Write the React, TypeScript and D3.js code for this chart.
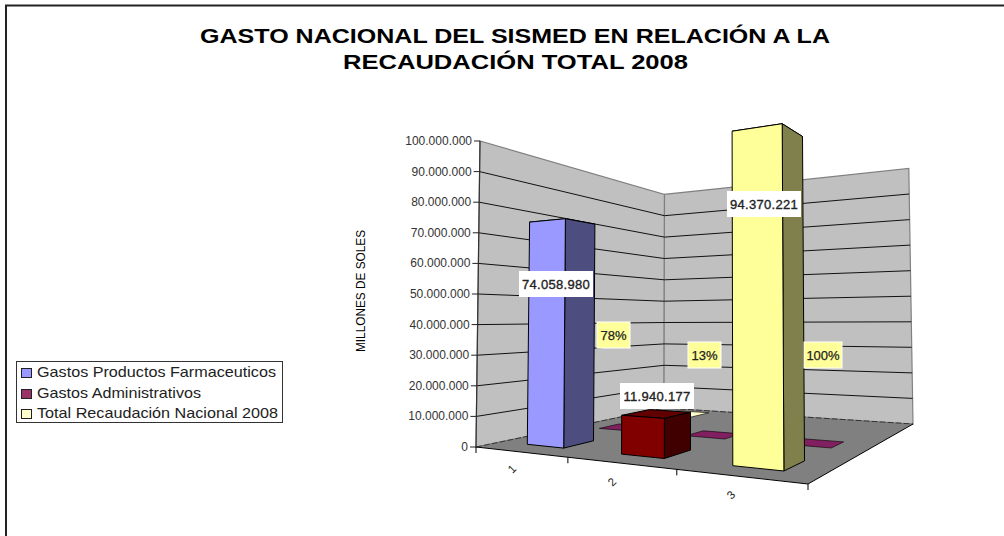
import React from "react";
import * as d3 from "d3";

const categories = ["1", "2", "3"];
const axisTicks = [0, 10000000, 20000000, 30000000, 40000000, 50000000, 60000000, 70000000, 80000000, 90000000, 100000000];
const tickLabels = ["0", "10.000.000", "20.000.000", "30.000.000", "40.000.000", "50.000.000", "60.000.000", "70.000.000", "80.000.000", "90.000.000", "100.000.000"];
const frontRowValues = [74058980, 11940177, 94370221];
const frontRowLabels = ["74.058.980", "11.940.177", "94.370.221"];
const percentLabels = ["78%", "13%", "100%"];
const middleRowValues = [0, 0, 0];
const backRowValues = [0, 0];
const legendNames = ["Gastos Productos Farmaceuticos", "Gastos Administrativos", "Total Recaudación Nacional 2008"];
const titleLines = ["GASTO NACIONAL DEL SISMED EN RELACIÓN A LA", "RECAUDACIÓN TOTAL 2008"];

const legendColors = ["#9999FF", "#993366", "#FFFFCC"];
const barStyle = [
  { front: "#9999FF", side: "#4D4D80", top: "#7373BF" },
  { front: "#800000", side: "#400000", top: "#600000" },
  { front: "#FFFF99", side: "#80804D", top: "#BFBF73" },
];
const FONT = "'Liberation Sans', Arial, sans-serif";

// floor quad: front-left, front-right, back-right, back-left
const [x0, y0, x1, y1, x2, y2, x3, y3] = [476, 447, 808, 484, 913, 424, 664, 408];
const dx1 = x1 - x2, dx2 = x3 - x2, sx = x0 - x1 + x2 - x3;
const dy1 = y1 - y2, dy2 = y3 - y2, sy = y0 - y1 + y2 - y3;
const det = dx1 * dy2 - dx2 * dy1;
const g = (sx * dy2 - dx2 * sy) / det;
const h = (dx1 * sy - sx * dy1) / det;
const a = x1 - x0 + g * x1, b = x3 - x0 + h * x3;
const d = y1 - y0 + g * y1, e = y3 - y0 + h * y3;

const valueScale = d3.scaleLinear().domain([0, 100000000]).range([0, 306]);
const catScale = d3.scaleBand<string>().domain(categories).range([0, 1]);
const BAR_START = 0.1, BAR_W = 0.135;

function proj(u: number, v: number, val: number): [number, number] {
  const w = 1 + g * u + h * v;
  const bx = (a * u + b * v + x0) / w;
  const by = (d * u + e * v + y0) / w;
  const ht = valueScale(val) / w;
  const tilt = (690 - bx) * 0.0187 * (valueScale(val) / 306);
  return [bx + tilt, by - ht];
}
const poly = (pts: [number, number][]) => pts.map((p) => p[0].toFixed(1) + "," + p[1].toFixed(1)).join(" ");

function Box({ i, val, v0, v1, style, stroke = "#000" }: any) {
  const u0 = (catScale(categories[i]) as number) + BAR_START;
  const u1 = u0 + BAR_W;
  const A = (v: number, vv: number) => proj(u0, vv, v);
  const B = (v: number, vv: number) => proj(u1, vv, v);
  return (
    <g stroke={stroke} strokeWidth={1} strokeLinejoin="round">
      <polygon points={poly([A(val, v0), B(val, v0), B(val, v1), A(val, v1)])} fill={style.top} />
      <polygon points={poly([B(0, v0), B(0, v1), B(val, v1), B(val, v0)])} fill={style.side} />
      <polygon points={poly([A(0, v0), B(0, v0), B(val, v0), A(val, v0)])} fill={style.front} />
    </g>
  );
}

function Plate({ i, v0, v1, fill }: any) {
  const u0 = (catScale(categories[i]) as number) + BAR_START;
  const u1 = u0 + BAR_W;
  return <polygon points={poly([proj(u0, v0, 0), proj(u1, v0, 0), proj(u1, v1, 0), proj(u0, v1, 0)])} fill={fill} stroke="#000" strokeWidth={0.6} />;
}

const valueBoxes = [
  { x: 519, y: 271 },
  { x: 620, y: 383 },
  { x: 727, y: 191 },
];
const pctBoxes = [
  { x: 597, y: 322, w: 33 },
  { x: 688, y: 342, w: 33 },
  { x: 804, y: 342, w: 38 },
];
const catLabelPos = [
  { x: 512, y: 469 },
  { x: 612, y: 482 },
  { x: 731, y: 495 },
];
const titlePos = [
  { x: 200, y: 42.5, len: 630 },
  { x: 343, y: 69, len: 345 },
];
const legendLens = [239, 164, 241];
const legendRowY = [377, 398, 418];

export default function App() {
  return (
    <svg width={1004} height={536} style={{ position: "absolute", left: 0, top: 0, background: "#fff" }} fontFamily={FONT}>
      <path d="M6 536V5.5H1004" fill="none" stroke="#222" strokeWidth={2} />
      {titleLines.map((t, i) => (
        <text key={t} x={titlePos[i].x} y={titlePos[i].y} fontWeight="bold" fontSize={19.5} fill="#000" textLength={titlePos[i].len} lengthAdjust="spacingAndGlyphs">{t}</text>
      ))}

      {/* walls */}
      <polygon points={poly([proj(0, 0, 0), proj(0, 1, 0), proj(0, 1, 100000000), proj(0, 0, 100000000)])} fill="#C0C0C0" stroke="#808080" strokeWidth={1.2} />
      <polygon points={poly([proj(0, 1, 0), proj(1, 1, 0), proj(1, 1, 100000000), proj(0, 1, 100000000)])} fill="#C0C0C0" stroke="#808080" strokeWidth={1.2} />
      {/* floor */}
      <polygon points={poly([proj(0, 0, 0), proj(1, 0, 0), proj(1, 1, 0), proj(0, 1, 0)])} fill="#808080" />
      <polyline points={poly([proj(0, 1, 0), proj(1, 1, 0)])} stroke="#333" strokeWidth={1} strokeDasharray="6 2" fill="none" />
      <polyline points={poly([proj(0, 0, 0), proj(0, 1, 0)])} stroke="#333" strokeWidth={1} strokeDasharray="6 2" fill="none" />
      <polyline points={poly([proj(0, 0, 0), proj(1, 0, 0), proj(1, 1, 0)])} stroke="#000" strokeWidth={1} fill="none" />
      {/* grid lines */}
      {axisTicks.slice(1, -1).map((t) => (
        <polyline key={t} points={poly([proj(0, 0, t), proj(0, 1, t), proj(1, 1, t)])} fill="none" stroke="#111" strokeWidth={1} />
      ))}
      {/* value axis */}
      <line x1={proj(0, 0, 0)[0]} y1={proj(0, 0, 0)[1]} x2={proj(0, 0, 100000000)[0]} y2={proj(0, 0, 100000000)[1]} stroke="#333" strokeWidth={1.2} />
      {axisTicks.map((t, i) => {
        const p = proj(0, 0, t);
        return (
          <g key={t}>
            <line x1={p[0] - 6} x2={p[0]} y1={p[1]} y2={p[1]} stroke="#222" />
            <text x={p[0] - 8} y={p[1] + 4} textAnchor="end" fontSize={12} fill="#333">{tickLabels[i]}</text>
          </g>
        );
      })}
      {/* category ticks */}
      {[0, 1, 2, 3].map((i) => {
        const p = proj(i / 3, 0, 0);
        return <line key={i} x1={p[0]} x2={p[0]} y1={p[1]} y2={p[1] + 6} stroke="#000" />;
      })}
      {categories.map((c, i) => (
        <text key={c} transform={`translate(${catLabelPos[i].x},${catLabelPos[i].y}) rotate(-45)`} textAnchor="middle" dy={4} fontSize={11.5} fill="#222">{c}</text>
      ))}

      {/* back rows */}
      {backRowValues.map((_, i) => <Plate key={i} i={i} v0={0.8} v1={0.95} fill="#FFFFCC" />)}
      {middleRowValues.map((_, i) => <Plate key={i} i={i} v0={0.44} v1={0.55} fill="#802060" />)}
      {/* bars */}
      {frontRowValues.map((val, i) => <Box key={i} i={i} val={val} v0={0.1} v1={0.235} style={barStyle[i]} />)}

      {/* data labels */}
      {frontRowLabels.map((t, i) => (
        <g key={t}>
          <rect x={valueBoxes[i].x} y={valueBoxes[i].y} width={74} height={26} fill="#fff" />
          <text x={valueBoxes[i].x + 37} y={valueBoxes[i].y + 18} textAnchor="middle" fontSize={13} letterSpacing={0.3} stroke="#222" strokeWidth={0.35} fill="#222">{t}</text>
        </g>
      ))}
      {percentLabels.map((t, i) => (
        <g key={t}>
          <rect x={pctBoxes[i].x} y={pctBoxes[i].y} width={pctBoxes[i].w} height={26} fill="#FFFF99" stroke="#fff" />
          <text x={pctBoxes[i].x + pctBoxes[i].w / 2} y={pctBoxes[i].y + 18} textAnchor="middle" fontSize={13} stroke="#222" strokeWidth={0.25} fill="#222">{t}</text>
        </g>
      ))}

      {/* axis title */}
      <text transform="translate(365,291) rotate(-90)" textAnchor="middle" fontSize={13} fill="#000" textLength={122} lengthAdjust="spacingAndGlyphs">MILLONES DE SOLES</text>

      {/* legend */}
      <rect x={16.5} y={361.5} width={266} height={61} fill="#fff" stroke="#333" />
      {legendNames.map((n, i) => (
        <g key={n}>
          <rect x={21.5} y={legendRowY[i] - 8.5} width={10} height={9} fill={legendColors[i]} stroke="#222" />
          <text x={37} y={legendRowY[i]} fontSize={15} fill="#222" textLength={legendLens[i]} lengthAdjust="spacingAndGlyphs">{n}</text>
        </g>
      ))}
    </svg>
  );
}
